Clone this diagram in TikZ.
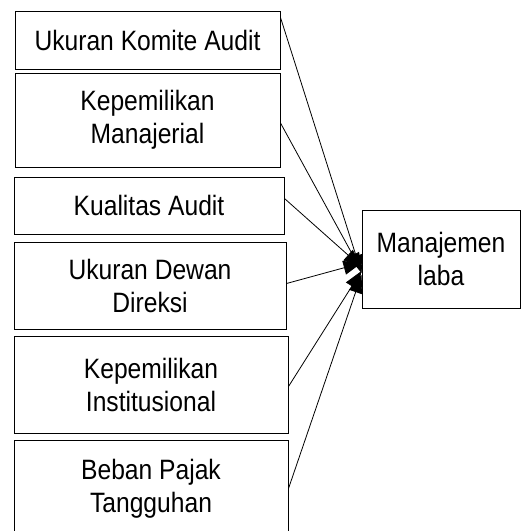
\documentclass[tikz,border=0pt]{standalone}
\usepackage{fontspec}
\setmainfont{Liberation Sans}[FakeStretch=0.88]
\usetikzlibrary{arrows.meta}

\begin{document}
\begin{tikzpicture}[x=1pt,y=-1pt,
    every node/.style={font=\fontsize{28}{33}\selectfont},
    varbox/.style={draw,line width=1pt,align=center,inner sep=0pt},
    arr/.style={line width=0.8pt,-{Triangle[length=18pt,width=14pt]}}]

    \useasboundingbox (0,0) rectangle (523,531);
    \clip (0,0) rectangle (523,531);

    % independent variables
    \node[varbox,minimum width=265,minimum height=58] (komite) at (147.5,40) {Ukuran Komite Audit};
    \node[varbox,minimum width=265,minimum height=94] (manajerial) at (147.5,120) {Kepemilikan\\Manajerial};
    \node[varbox,minimum width=270,minimum height=57] (kualitas) at (149,205.5) {Kualitas Audit};
    \node[varbox,minimum width=272,minimum height=87] (direksi) at (150,285.5) {Ukuran Dewan\\Direksi};
    \node[varbox,minimum width=274,minimum height=97] (institusi) at (151,384.5) {Kepemilikan\\Institusional};
    \node[varbox,minimum width=274,minimum height=97] (pajak) at (151,488.5) {Beban Pajak\\Tangguhan};

    % dependent variable
    \node[varbox,minimum width=158,minimum height=98] (laba) at (441,259) {Manajemen\\laba};

    \draw[arr] ([yshift=-7pt]komite.north east) -- ([yshift=-14pt]laba.west);
    \draw[arr] ([yshift=-3pt]manajerial.east) -- ([yshift=-12pt]laba.west);
    \draw[arr] ([yshift=7pt]kualitas.east) -- ([yshift=-8pt]laba.west);
    \draw[arr] ([yshift=2pt]direksi.east) -- ([yshift=-4pt]laba.west);
    \draw[arr] ([yshift=-2pt]institusi.east) -- ([yshift=-12pt]laba.west);
    \draw[arr] (pajak.east) -- ([yshift=-16pt]laba.west);
\end{tikzpicture}
\end{document}
